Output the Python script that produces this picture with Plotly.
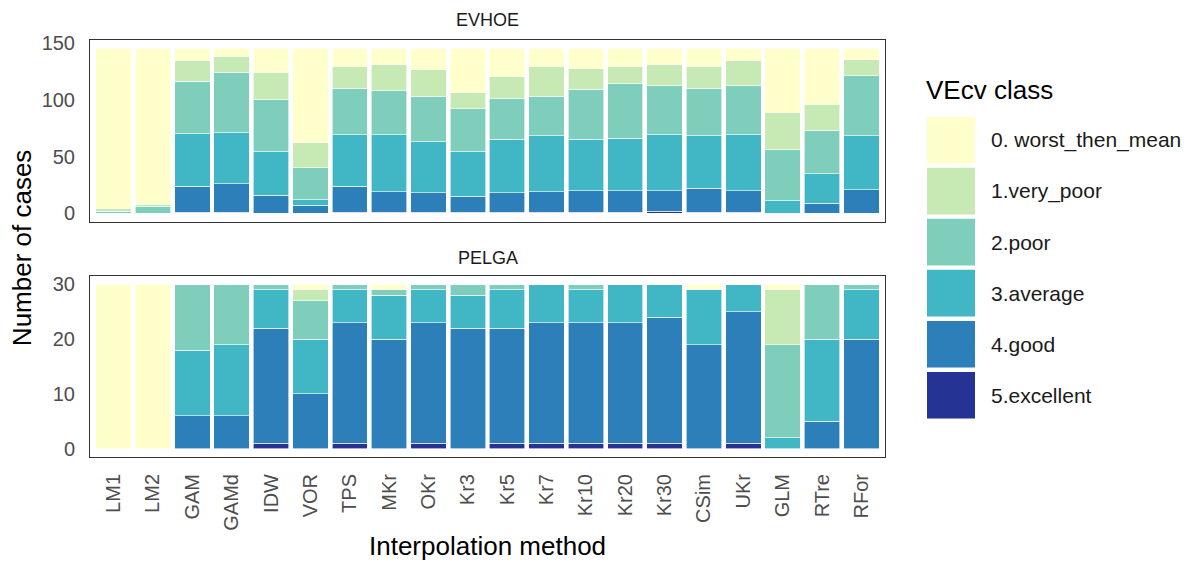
import plotly.graph_objects as go

methods = ["LM1", "LM2", "GAM", "GAMd", "IDW", "VOR", "TPS", "MKr", "OKr", "Kr3",
           "Kr5", "Kr7", "Kr10", "Kr20", "Kr30", "CSim", "UKr", "GLM", "RTre", "RFor"]

classes = ["0. worst_then_mean", "1.very_poor", "2.poor", "3.average", "4.good", "5.excellent"]
colors = ["#FFFFCC", "#C7E9B4", "#7FCDBB", "#41B6C4", "#2C7FB8", "#253494"]

# EVHOE counts per class
ev_excellent = [0, 0, 1, 1, 0, 0, 1, 1, 1, 1, 1, 1, 1, 1, 2, 1, 1, 0, 0, 0]
ev_good      = [0, 0, 23, 25, 16, 7, 23, 18, 17, 14, 17, 18, 19, 19, 18, 21, 19, 0, 9, 21]
ev_average   = [0, 0, 46, 45, 38, 5, 45, 50, 45, 39, 47, 49, 45, 46, 49, 46, 49, 11, 26, 47]
ev_poor      = [2, 6, 46, 53, 46, 28, 41, 39, 40, 38, 36, 35, 44, 48, 43, 42, 43, 45, 38, 53]
ev_verypoor  = [2, 2, 18, 14, 24, 22, 19, 23, 23, 14, 19, 26, 18, 15, 19, 19, 22, 33, 23, 14]
ev_worst     = [141, 137, 11, 7, 21, 83, 16, 14, 19, 39, 25, 16, 18, 16, 14, 16, 11, 56, 49, 10]

# PELGA counts per class
pe_excellent = [0, 0, 0, 0, 1, 0, 1, 0, 1, 0, 1, 1, 1, 1, 1, 0, 1, 0, 0, 0]
pe_good      = [0, 0, 6, 6, 21, 10, 22, 20, 22, 22, 21, 22, 22, 22, 23, 19, 24, 0, 5, 20]
pe_average   = [0, 0, 12, 13, 7, 10, 6, 8, 6, 6, 7, 7, 6, 7, 6, 10, 5, 2, 15, 9]
pe_poor      = [0, 0, 12, 11, 1, 7, 1, 1, 1, 2, 1, 0, 1, 0, 0, 0, 0, 17, 10, 1]
pe_verypoor  = [0, 0, 0, 0, 0, 2, 0, 0, 0, 0, 0, 0, 0, 0, 0, 0, 0, 10, 0, 0]
pe_worst     = [30, 30, 0, 0, 0, 1, 0, 1, 0, 0, 0, 0, 0, 0, 0, 1, 0, 1, 0, 0]

ev_series = [ev_worst, ev_verypoor, ev_poor, ev_average, ev_good, ev_excellent]
pe_series = [pe_worst, pe_verypoor, pe_poor, pe_average, pe_good, pe_excellent]

W, H = 1192, 566
L, R, T, B = 90, 885, 40, 456.7
PW, PH = R - L, B - T


def px(x):
    return (x - L) / PW


def py(y):
    return (B - y) / PH


fig = go.Figure()
# stack from bottom: excellent first
for i in reversed(range(6)):
    fig.add_trace(go.Bar(x=methods, y=ev_series[i], name=classes[i],
                         marker=dict(color=colors[i], line=dict(color="white", width=0.6)),
                         xaxis="x", yaxis="y", showlegend=False))
    fig.add_trace(go.Bar(x=methods, y=pe_series[i], name=classes[i],
                         marker=dict(color=colors[i], line=dict(color="white", width=0.6)),
                         xaxis="x2", yaxis="y2", showlegend=False))

axis_line = dict(showline=True, mirror=True, linecolor="#333333", linewidth=1,
                 showgrid=False, zeroline=False)
tickfont = dict(family="Liberation Sans, Arial, sans-serif", size=20, color="#4D4D4D")

top_dom = [py(221.6), 1]
bot_dom = [0, py(276)]
xr = [-0.6, len(methods) - 0.4]

fig.update_layout(
    width=W, height=H,
    margin=dict(l=L, r=W - R, t=T, b=H - B),
    paper_bgcolor="white", plot_bgcolor="white",
    barmode="stack", bargap=0.1,
    font=dict(family="Liberation Sans, Arial, sans-serif", color="#1A1A1A"),
    xaxis=dict(domain=[0, 1], anchor="y", range=xr, showticklabels=False,
               categoryorder="array", categoryarray=methods, **axis_line),
    yaxis=dict(domain=top_dom, anchor="x", range=[-7.25, 152.25],
               tickvals=[0, 50, 100, 150], tickfont=tickfont, ticklabelstandoff=10, **axis_line),
    xaxis2=dict(domain=[0, 1], anchor="y2", range=xr, tickangle=-90,
                categoryorder="array", categoryarray=methods,
                tickfont=tickfont, ticklabelstandoff=8, **axis_line),
    yaxis2=dict(domain=bot_dom, anchor="x2", range=[-1.5, 31.5],
                tickvals=[0, 10, 20, 30], tickfont=tickfont, ticklabelstandoff=10, **axis_line),
)

annotations = [
    dict(text="EVHOE", x=0.5, y=py(20), xref="paper", yref="paper", showarrow=False,
         font=dict(size=18, color="#1A1A1A"), xanchor="center", yanchor="middle"),
    dict(text="PELGA", x=0.5, y=py(258), xref="paper", yref="paper", showarrow=False,
         font=dict(size=18, color="#1A1A1A"), xanchor="center", yanchor="middle"),
    dict(text="Number of cases", x=px(22), y=py(248), xref="paper", yref="paper",
         showarrow=False, textangle=-90, font=dict(size=26, color="#000000"),
         xanchor="center", yanchor="middle"),
    dict(text="Interpolation method", x=0.5, y=py(546), xref="paper", yref="paper",
         showarrow=False, font=dict(size=26, color="#000000"),
         xanchor="center", yanchor="middle"),
    dict(text="VEcv class", x=px(924), y=py(90), xref="paper", yref="paper",
         showarrow=False, font=dict(size=26, color="#000000"),
         xanchor="left", yanchor="middle"),
]

shapes = []
for i, (c, lab) in enumerate(zip(colors, classes)):
    top = 116.7 + 51 * i
    bot = top + 46.6
    shapes.append(dict(type="rect", xref="paper", yref="paper",
                       x0=px(927), x1=px(975), y0=py(bot), y1=py(top),
                       fillcolor=c, line=dict(width=0)))
    annotations.append(dict(text=lab, x=px(989), y=py((top + bot) / 2), xref="paper",
                            yref="paper", showarrow=False,
                            font=dict(size=21, color="#1A1A1A"),
                            xanchor="left", yanchor="middle"))

fig.update_layout(annotations=annotations, shapes=shapes)

fig.write_html("out.html")
